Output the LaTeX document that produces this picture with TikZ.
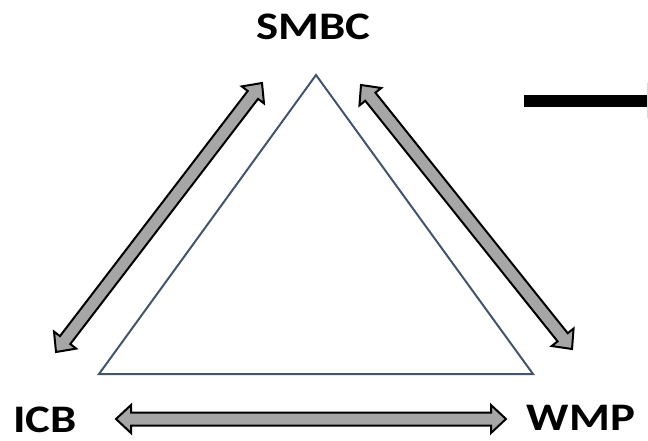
\documentclass[tikz,border=0pt]{standalone}
\usepackage{fontspec}
\setmainfont{Carlito}
\usetikzlibrary{calc}
\definecolor{trifill}{HTML}{44546A}
\definecolor{arrgray}{HTML}{A6A6A6}
\newcommand\myfatarrow[2]{%
  \draw[fatarr] (#1)
    -- ($(#1)!\hl!(#2)!\hw!90:(#2)$)
    -- ($(#1)!\hl!(#2)!\sw!90:(#2)$)
    -- ($(#2)!\hl!(#1)!\sw!-90:(#1)$)
    -- ($(#2)!\hl!(#1)!\hw!-90:(#1)$)
    -- (#2)
    -- ($(#2)!\hl!(#1)!\hw!90:(#1)$)
    -- ($(#2)!\hl!(#1)!\sw!90:(#1)$)
    -- ($(#1)!\hl!(#2)!\sw!-90:(#2)$)
    -- ($(#1)!\hl!(#2)!\hw!-90:(#2)$)
    -- cycle;}
\def\hl{15pt}
\def\hw{14pt}
\def\sw{6.5pt}
\begin{document}
\begin{tikzpicture}[x=1pt,y=-1pt,
  lbl/.style={font=\fontsize{39}{41}\selectfont\bfseries, inner sep=0pt, anchor=base, xscale=1.2, transform shape},
  tri/.style={draw=trifill, line width=2pt, line join=miter},
  fatarr/.style={draw=black, fill=arrgray, line width=2pt, line join=miter}]
\useasboundingbox (0,0) rectangle (648,440);
% labels
\node[lbl] (smbc) at (313.5,39) {SMBC};
\node[lbl] (icb) at (45,432) {ICB};
\node[lbl] (wmp) at (581,430) {WMP};
% triangle
\draw[tri] (316,75) -- (99,374) -- (533,374) -- cycle;
% arrow tips
\coordinate (l1) at (56,352);
\coordinate (l2) at (262,83);
\coordinate (r1) at (361,85);
\coordinate (r2) at (572,349);
\coordinate (b1) at (116,419);
\coordinate (b2) at (506,419);
\myfatarrow{l1}{l2}
\myfatarrow{r1}{r2}
\myfatarrow{b1}{b2}
% black bar at right edge
\coordinate (bar1) at (524,101);
\coordinate (bar2) at (648,101);
\draw[line width=12pt] (bar1) -- (bar2);
\coordinate (g1) at (647,83);
\coordinate (g2) at (647,118);
\draw[black!15, line width=1pt] (g1) -- (g2);
\end{tikzpicture}
\end{document}
